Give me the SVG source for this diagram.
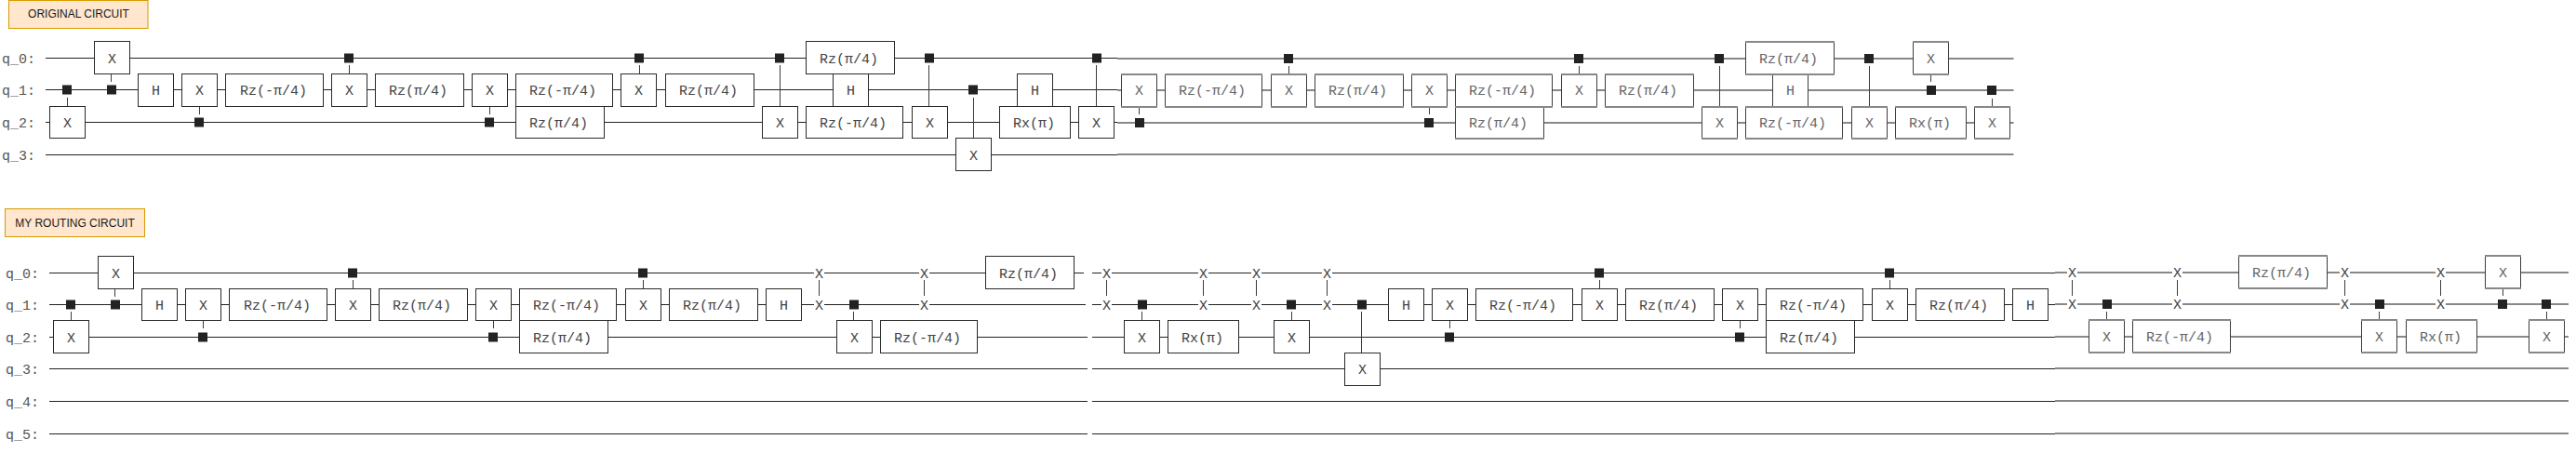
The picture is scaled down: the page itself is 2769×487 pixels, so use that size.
<svg xmlns="http://www.w3.org/2000/svg" width="2769" height="487" viewBox="0 0 2769 487">
<style>
text{font-family:"Liberation Mono","DejaVu Sans Mono",monospace;font-size:15px;fill:#444}
.lb{font-family:"Liberation Sans",Arial,sans-serif;font-size:12px;fill:#1a1a1a;text-anchor:middle}
.q{fill:#555}
.b rect{fill:#fff;stroke:#2a2a2a;stroke-width:1}
.g rect{fill:#fff;stroke:#3d3d3d;stroke-width:1}
.g path{fill:none;stroke:#888;stroke-width:2}
.g text{fill:#666}
.w path{fill:none;stroke:#222;stroke-width:1}
.w .y{stroke:#888;stroke-width:2}
.c path{fill:none;stroke:#3c3c3c;stroke-width:1}
.c rect{fill:#222}
.s rect{fill:#fff}
.s path{fill:none;stroke:#3c3c3c;stroke-width:1}
.box{fill:#ffe6cc;stroke:#d79b00;stroke-width:1}
</style>
<rect width="2769" height="487" fill="#fff"/>

<g id="title-original"><rect class="box" x="9.5" y="0.5" width="149.500" height="30"/><text class="lb" x="84.500" y="19">ORIGINAL CIRCUIT</text></g>
<g id="title-routing"><rect class="box" x="5.500" y="224.500" width="150" height="30"/><text class="lb" x="80.500" y="243.500">MY ROUTING CIRCUIT</text></g>

<g id="qubit-labels">
<text class="q" x="2" y="67.500">q_0:</text><text class="q" x="2" y="101.500">q_1:</text><text class="q" x="2" y="136.500">q_2:</text><text class="q" x="2" y="171.500">q_3:</text>
<text class="q" x="6" y="298.500">q_0:</text><text class="q" x="6" y="332.500">q_1:</text><text class="q" x="6" y="367.500">q_2:</text><text class="q" x="6" y="401.500">q_3:</text><text class="q" x="6" y="436.500">q_4:</text><text class="q" x="6" y="471.500">q_5:</text>
</g>

<g id="connectors">
<g class="w" id="wires">
<path d="M49 62.500H1201M49 96.500H1201M49 131.500H1201M49 166.500H1201"/>
<path class="y" d="M1201 63H2164.500M1201 97H2164.500M1201 132H2164.500M1201 166H2164.500"/>
<path d="M53 293.500H1165M53 327.500H1167M53 362.500H1169M53 396.500H1169M53 431.500H1169M53 466.500H1169"/>
<path d="M1174 293.500H2209M1174 327.500H2209M1174 362.500H2209M1174 396.500H2209M1174 431.500H2209M1174 466.500H2209"/>
<path class="y" d="M2209 293H2761M2209 327H2761M2209 362H2761M2209 396H2761M2209 431H2761M2209 466H2761"/>
</g>
<g class="c" id="controls-original">
<path d="M72.500 105V114M119.500 79V88M214.500 115V123M375.500 70V79M526.500 115V123M687.500 70V79M838.500 70V114M998.500 70V114M1046.500 105V148M1178.500 70V114M1224.500 115V123M1385.500 71V80M1536.500 115V123M1697.500 71V80M1848.500 71V115M2009.500 71V115M2075.500 80V88M2141.500 106V115"/>
<rect x="67" y="91.500" width="10" height="10"/><rect x="115" y="91.500" width="10" height="10"/><rect x="209" y="126.500" width="10" height="10"/><rect x="370" y="57.500" width="10" height="10"/><rect x="521" y="126.500" width="10" height="10"/><rect x="682" y="57.500" width="10" height="10"/><rect x="833" y="57.500" width="10" height="10"/><rect x="994" y="57.500" width="10" height="10"/><rect x="1041" y="91.500" width="10" height="10"/><rect x="1174" y="57.500" width="10" height="10"/>
<rect x="1220" y="127" width="10" height="10"/><rect x="1380" y="58" width="10" height="10"/><rect x="1531" y="127" width="10" height="10"/><rect x="1692" y="58" width="10" height="10"/><rect x="1843" y="58" width="10" height="10"/><rect x="2004" y="58" width="10" height="10"/><rect x="2071" y="92" width="10" height="10"/><rect x="2136" y="92" width="10" height="10"/>
</g>
<g class="c" id="controls-routing">
<path d="M76.500 335V344M123.500 310V319M218.500 345V353M379.500 301V310M530.500 345V353M691.500 301V310M917.500 335V344M1227.500 335V344M1388.500 335V344M1463.500 335V379M1558.500 345V353M1719.500 301V310M1870.500 345V353M2031.500 301V310M2264.500 335V344M2557.500 335V344M2690.500 310V318M2737.500 335V344"/>
<rect x="71" y="322.500" width="10" height="10"/><rect x="119" y="322.500" width="10" height="10"/><rect x="213" y="357.500" width="10" height="10"/><rect x="374" y="288.500" width="10" height="10"/><rect x="525" y="357.500" width="10" height="10"/><rect x="686" y="288.500" width="10" height="10"/><rect x="913" y="322.500" width="10" height="10"/><rect x="1223" y="322.500" width="10" height="10"/><rect x="1383" y="322.500" width="10" height="10"/><rect x="1459" y="322.500" width="10" height="10"/><rect x="1553" y="357.500" width="10" height="10"/><rect x="1714" y="288.500" width="10" height="10"/><rect x="1865" y="357.500" width="10" height="10"/><rect x="2026" y="288.500" width="10" height="10"/>
<rect x="2260" y="322" width="10" height="10"/><rect x="2553" y="322" width="10" height="10"/><rect x="2685" y="322" width="10" height="10"/><rect x="2732" y="322" width="10" height="10"/>
</g>
<g class="s" id="swaps">
<path d="M880.500 301V318M993.500 301V318M1189.500 301V318M1293.500 301V318M1350.500 301V318M1426.500 301V318M2227.500 301V318M2340.500 301V318M2520.500 301V318M2623.500 301V318"/>
<rect x="875" y="287" width="11" height="13"/><rect x="875" y="321" width="11" height="13"/><text x="876" y="298.500">X</text><text x="876" y="332.500">X</text>
<rect x="988" y="287" width="11" height="13"/><rect x="988" y="321" width="11" height="13"/><text x="989" y="298.500">X</text><text x="989" y="332.500">X</text>
<rect x="1184" y="287" width="11" height="13"/><rect x="1184" y="321" width="11" height="13"/><text x="1185" y="298.500">X</text><text x="1185" y="332.500">X</text>
<rect x="1288" y="287" width="11" height="13"/><rect x="1288" y="321" width="11" height="13"/><text x="1289" y="298.500">X</text><text x="1289" y="332.500">X</text>
<rect x="1345" y="287" width="11" height="13"/><rect x="1345" y="321" width="11" height="13"/><text x="1346" y="298.500">X</text><text x="1346" y="332.500">X</text>
<rect x="1421" y="287" width="11" height="13"/><rect x="1421" y="321" width="11" height="13"/><text x="1422" y="298.500">X</text><text x="1422" y="332.500">X</text>
<rect x="2222" y="287" width="11" height="13"/><rect x="2222" y="321" width="11" height="13"/><text x="2223" y="298">X</text><text x="2223" y="332">X</text>
<rect x="2335" y="287" width="11" height="13"/><rect x="2335" y="321" width="11" height="13"/><text x="2336" y="298">X</text><text x="2336" y="332">X</text>
<rect x="2515" y="287" width="11" height="13"/><rect x="2515" y="321" width="11" height="13"/><text x="2516" y="298">X</text><text x="2516" y="332">X</text>
<rect x="2618" y="287" width="11" height="13"/><rect x="2618" y="321" width="11" height="13"/><text x="2619" y="298">X</text><text x="2619" y="332">X</text>
</g>
</g>

<g id="gates-original">
<g id="o1" class="b"><rect x="53.500" y="114.500" width="38" height="34"/><text x="68" y="136.500">X</text></g>
<g id="o2" class="b"><rect x="101.500" y="44.500" width="38" height="35"/><text x="116" y="67.500">X</text></g>
<g id="o3" class="b"><rect x="148.500" y="79.500" width="38" height="35"/><text x="163" y="101.500">H</text></g>
<g id="o4" class="b"><rect x="195.500" y="79.500" width="38" height="35"/><text x="210" y="101.500">X</text></g>
<g id="o5" class="b"><rect x="242.500" y="79.500" width="105" height="35"/><text x="258" y="101.500">Rz(-π/4)</text></g>
<g id="o6" class="b"><rect x="356.500" y="79.500" width="38" height="35"/><text x="371" y="101.500">X</text></g>
<g id="o7" class="b"><rect x="403.500" y="79.500" width="95" height="35"/><text x="418" y="101.500">Rz(π/4)</text></g>
<g id="o8" class="b"><rect x="507.500" y="79.500" width="38" height="35"/><text x="522" y="101.500">X</text></g>
<g id="o10" class="b"><rect x="554.500" y="114.500" width="95" height="34"/><text x="569" y="136.500">Rz(π/4)</text></g>
<g id="o9" class="b"><rect x="554.500" y="79.500" width="104" height="35"/><text x="569" y="101.500">Rz(-π/4)</text></g>
<g id="o11" class="b"><rect x="667.500" y="79.500" width="38" height="35"/><text x="682" y="101.500">X</text></g>
<g id="o12" class="b"><rect x="715.500" y="79.500" width="95" height="35"/><text x="730" y="101.500">Rz(π/4)</text></g>
<g id="o13" class="b"><rect x="819.500" y="114.500" width="38" height="34"/><text x="834" y="136.500">X</text></g>
<g id="o15" class="b"><rect x="895.500" y="79.500" width="38" height="35"/><text x="910" y="101.500">H</text></g>
<g id="o14" class="b"><rect x="866.500" y="44.500" width="95" height="35"/><text x="881" y="67.500">Rz(π/4)</text></g>
<g id="o16" class="b"><rect x="866.500" y="114.500" width="104" height="34"/><text x="881" y="136.500">Rz(-π/4)</text></g>
<g id="o17" class="b"><rect x="980.500" y="114.500" width="38" height="34"/><text x="995" y="136.500">X</text></g>
<g id="o18" class="b"><rect x="1027.500" y="148.500" width="38" height="35"/><text x="1042" y="171.500">X</text></g>
<g id="o19" class="b"><rect x="1093.500" y="79.500" width="38" height="35"/><text x="1108" y="101.500">H</text></g>
<g id="o20" class="b"><rect x="1074.500" y="114.500" width="76" height="34"/><text x="1089" y="136.500">Rx(π)</text></g>
<g id="o21" class="b"><rect x="1159.500" y="114.500" width="38" height="34"/><text x="1174" y="136.500">X</text></g>
<g id="o22" class="g"><rect x="1205.500" y="80" width="38" height="35"/><path d="M1205 80H1244M1205 115H1244"/><text x="1220" y="102">X</text></g>
<g id="o23" class="g"><rect x="1252.500" y="80" width="104" height="35"/><path d="M1252 80H1357M1252 115H1357"/><text x="1267" y="102">Rz(-π/4)</text></g>
<g id="o24" class="g"><rect x="1366.500" y="80" width="38" height="35"/><path d="M1366 80H1405M1366 115H1405"/><text x="1381" y="102">X</text></g>
<g id="o25" class="g"><rect x="1413.500" y="80" width="95" height="35"/><path d="M1413 80H1509M1413 115H1509"/><text x="1428" y="102">Rz(π/4)</text></g>
<g id="o26" class="g"><rect x="1517.500" y="80" width="38" height="35"/><path d="M1517 80H1556M1517 115H1556"/><text x="1532" y="102">X</text></g>
<g id="o28" class="g"><rect x="1564.500" y="115" width="95" height="34"/><path d="M1564 115H1660M1564 149H1660"/><text x="1579" y="137">Rz(π/4)</text></g>
<g id="o27" class="g"><rect x="1564.500" y="80" width="104" height="35"/><path d="M1564 80H1669M1564 115H1669"/><text x="1579" y="102">Rz(-π/4)</text></g>
<g id="o29" class="g"><rect x="1678.500" y="80" width="38" height="35"/><path d="M1678 80H1717M1678 115H1717"/><text x="1693" y="102">X</text></g>
<g id="o30" class="g"><rect x="1725.500" y="80" width="95" height="35"/><path d="M1725 80H1821M1725 115H1821"/><text x="1740" y="102">Rz(π/4)</text></g>
<g id="o31" class="g"><rect x="1829.500" y="115" width="38" height="34"/><path d="M1829 115H1868M1829 149H1868"/><text x="1844" y="137">X</text></g>
<g id="o33" class="g"><rect x="1905.500" y="80" width="38" height="35"/><text x="1920" y="102">H</text></g>
<g id="o32" class="g"><rect x="1876.500" y="45" width="95" height="35"/><path d="M1876 45H1972M1876 80H1972"/><text x="1891" y="68">Rz(π/4)</text></g>
<g id="o34" class="g"><rect x="1876.500" y="115" width="104" height="34"/><path d="M1876 115H1981M1876 149H1981"/><text x="1891" y="137">Rz(-π/4)</text></g>
<g id="o35" class="g"><rect x="1990.500" y="115" width="38" height="34"/><path d="M1990 115H2029M1990 149H2029"/><text x="2005" y="137">X</text></g>
<g id="o36" class="g"><rect x="2056.500" y="45" width="38" height="35"/><path d="M2056 45H2095M2056 80H2095"/><text x="2071" y="68">X</text></g>
<g id="o37" class="g"><rect x="2037.500" y="115" width="76" height="34"/><path d="M2037 115H2114M2037 149H2114"/><text x="2052" y="137">Rx(π)</text></g>
<g id="o38" class="g"><rect x="2122.500" y="115" width="38" height="34"/><path d="M2122 115H2161M2122 149H2161"/><text x="2137" y="137">X</text></g>
</g>

<g id="gates-routing">
<g id="r1" class="b"><rect x="57.500" y="344.500" width="38" height="35"/><text x="72" y="367.500">X</text></g>
<g id="r2" class="b"><rect x="105.500" y="275.500" width="38" height="35"/><text x="120" y="298.500">X</text></g>
<g id="r3" class="b"><rect x="152.500" y="310.500" width="38" height="34"/><text x="167" y="332.500">H</text></g>
<g id="r4" class="b"><rect x="199.500" y="310.500" width="38" height="34"/><text x="214" y="332.500">X</text></g>
<g id="r5" class="b"><rect x="246.500" y="310.500" width="105" height="34"/><text x="262" y="332.500">Rz(-π/4)</text></g>
<g id="r6" class="b"><rect x="360.500" y="310.500" width="38" height="34"/><text x="375" y="332.500">X</text></g>
<g id="r7" class="b"><rect x="407.500" y="310.500" width="95" height="34"/><text x="422" y="332.500">Rz(π/4)</text></g>
<g id="r8" class="b"><rect x="511.500" y="310.500" width="38" height="34"/><text x="526" y="332.500">X</text></g>
<g id="r10" class="b"><rect x="558.500" y="344.500" width="95" height="35"/><text x="573" y="367.500">Rz(π/4)</text></g>
<g id="r9" class="b"><rect x="558.500" y="310.500" width="104" height="34"/><text x="573" y="332.500">Rz(-π/4)</text></g>
<g id="r11" class="b"><rect x="672.500" y="310.500" width="38" height="34"/><text x="687" y="332.500">X</text></g>
<g id="r12" class="b"><rect x="719.500" y="310.500" width="95" height="34"/><text x="734" y="332.500">Rz(π/4)</text></g>
<g id="r13" class="b"><rect x="823.500" y="310.500" width="38" height="34"/><text x="838" y="332.500">H</text></g>
<g id="r14" class="b"><rect x="899.500" y="344.500" width="38" height="35"/><text x="914" y="367.500">X</text></g>
<g id="r15" class="b"><rect x="946.500" y="344.500" width="104" height="35"/><text x="961" y="367.500">Rz(-π/4)</text></g>
<g id="r16" class="b"><rect x="1059.500" y="275.500" width="95" height="35"/><text x="1074" y="298.500">Rz(π/4)</text></g>
<g id="r17" class="b"><rect x="1208.500" y="344.500" width="38" height="35"/><text x="1223" y="367.500">X</text></g>
<g id="r18" class="b"><rect x="1255.500" y="344.500" width="76" height="35"/><text x="1270" y="367.500">Rx(π)</text></g>
<g id="r19" class="b"><rect x="1369.500" y="344.500" width="38" height="35"/><text x="1384" y="367.500">X</text></g>
<g id="r20" class="b"><rect x="1445.500" y="379.500" width="38" height="35"/><text x="1460" y="401.500">X</text></g>
<g id="r21" class="b"><rect x="1492.500" y="310.500" width="38" height="34"/><text x="1507" y="332.500">H</text></g>
<g id="r22" class="b"><rect x="1539.500" y="310.500" width="38" height="34"/><text x="1554" y="332.500">X</text></g>
<g id="r23" class="b"><rect x="1586.500" y="310.500" width="104" height="34"/><text x="1601" y="332.500">Rz(-π/4)</text></g>
<g id="r24" class="b"><rect x="1700.500" y="310.500" width="38" height="34"/><text x="1715" y="332.500">X</text></g>
<g id="r25" class="b"><rect x="1747.500" y="310.500" width="95" height="34"/><text x="1762" y="332.500">Rz(π/4)</text></g>
<g id="r26" class="b"><rect x="1851.500" y="310.500" width="38" height="34"/><text x="1866" y="332.500">X</text></g>
<g id="r28" class="b"><rect x="1898.500" y="344.500" width="95" height="35"/><text x="1913" y="367.500">Rz(π/4)</text></g>
<g id="r27" class="b"><rect x="1898.500" y="310.500" width="104" height="34"/><text x="1913" y="332.500">Rz(-π/4)</text></g>
<g id="r29" class="b"><rect x="2012.500" y="310.500" width="38" height="34"/><text x="2027" y="332.500">X</text></g>
<g id="r30" class="b"><rect x="2059.500" y="310.500" width="95" height="34"/><text x="2074" y="332.500">Rz(π/4)</text></g>
<g id="r31" class="b"><rect x="2163.500" y="310.500" width="38" height="34"/><text x="2178" y="332.500">H</text></g>
<g id="r32" class="g"><rect x="2245.500" y="344" width="38" height="35"/><path d="M2245 344H2284M2245 379H2284"/><text x="2260" y="367">X</text></g>
<g id="r33" class="g"><rect x="2292.500" y="344" width="105" height="35"/><path d="M2292 344H2398M2292 379H2398"/><text x="2307" y="367">Rz(-π/4)</text></g>
<g id="r34" class="g"><rect x="2406.500" y="275" width="95" height="35"/><path d="M2406 275H2502M2406 310H2502"/><text x="2421" y="298">Rz(π/4)</text></g>
<g id="r35" class="g"><rect x="2538.500" y="344" width="38" height="35"/><path d="M2538 344H2577M2538 379H2577"/><text x="2553" y="367">X</text></g>
<g id="r36" class="g"><rect x="2586.500" y="344" width="76" height="35"/><path d="M2586 344H2663M2586 379H2663"/><text x="2601" y="367">Rx(π)</text></g>
<g id="r37" class="g"><rect x="2671.500" y="275" width="38" height="35"/><path d="M2671 275H2710M2671 310H2710"/><text x="2686" y="298">X</text></g>
<g id="r38" class="g"><rect x="2718.500" y="344" width="38" height="35"/><path d="M2718 344H2757M2718 379H2757"/><text x="2733" y="367">X</text></g>
</g>
</svg>
